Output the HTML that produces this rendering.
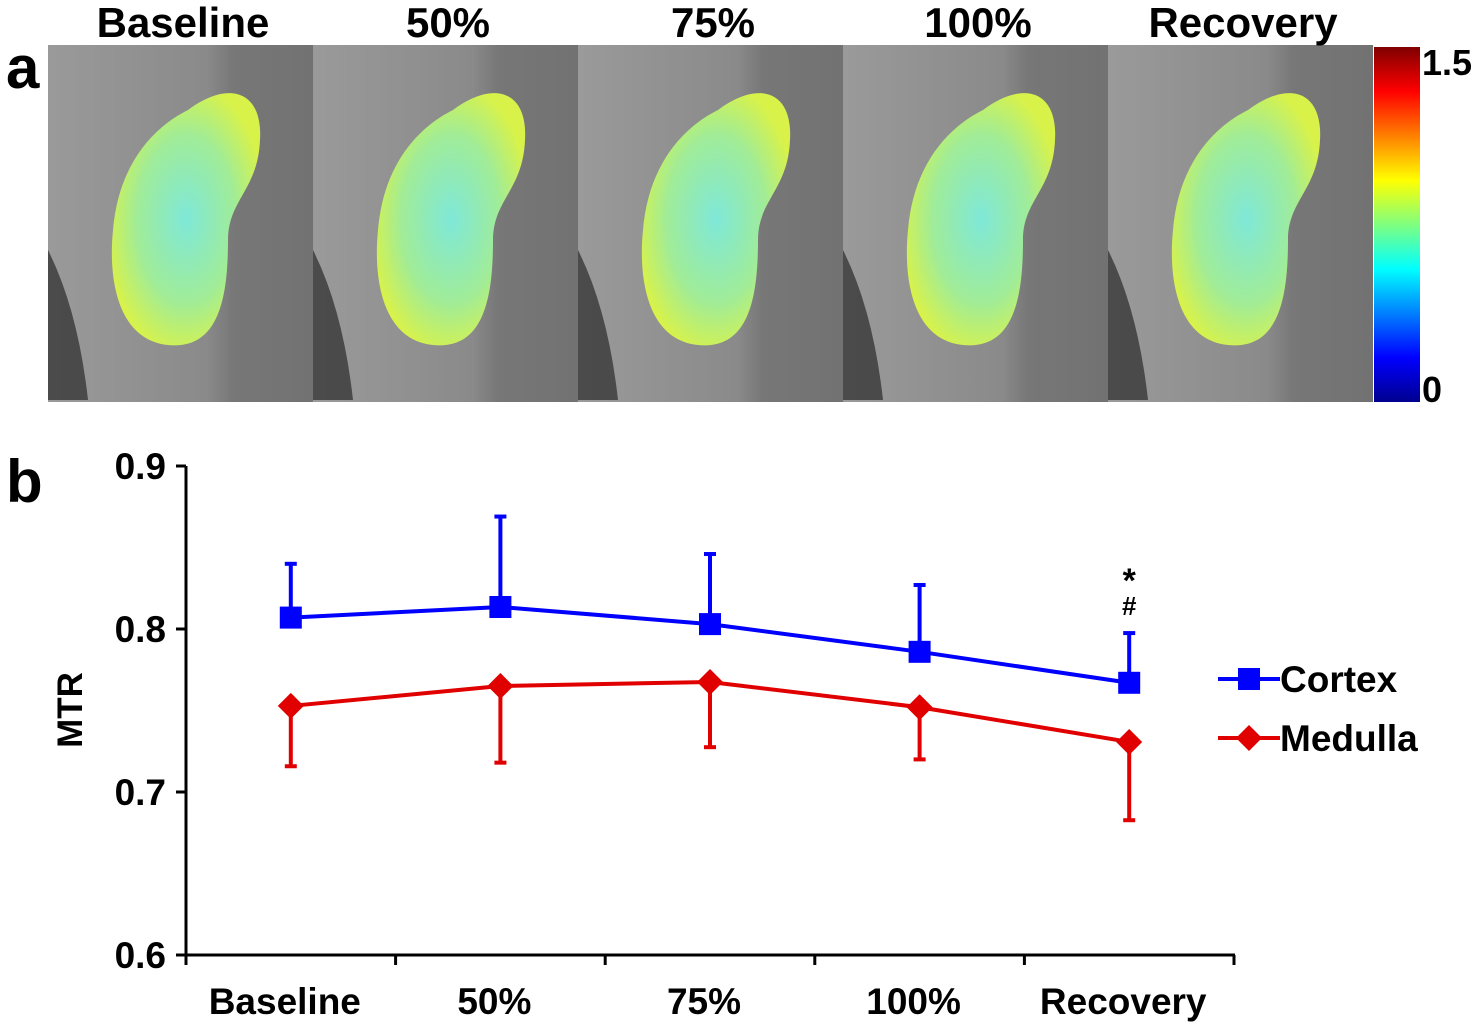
<!DOCTYPE html>
<html><head><meta charset="utf-8"><style>
body{margin:0;background:#fff;width:1480px;height:1024px;overflow:hidden;font-family:"Liberation Sans",sans-serif}
</style></head><body>
<svg width="1480" height="1024" viewBox="0 0 1480 1024">
<defs>
<linearGradient id="jet" x1="0" y1="1" x2="0" y2="0">
<stop offset="0" stop-color="#00008f"/><stop offset="0.125" stop-color="#0000ff"/><stop offset="0.375" stop-color="#00ffff"/><stop offset="0.625" stop-color="#ffff00"/><stop offset="0.875" stop-color="#ff0000"/><stop offset="1" stop-color="#800000"/>
</linearGradient>
<radialGradient id="kid" cx="0.5" cy="0.5" r="0.55">
<stop offset="0" stop-color="#7fe8d8"/><stop offset="0.6" stop-color="#a0ec98"/><stop offset="1" stop-color="#d8f24a"/>
</radialGradient>
<linearGradient id="bg" x1="0" y1="0" x2="1" y2="0">
<stop offset="0" stop-color="#9a9a9a"/><stop offset="0.6" stop-color="#8a8a8a"/><stop offset="0.7" stop-color="#777"/><stop offset="1" stop-color="#727272"/>
</linearGradient>
</defs>
<text x="6" y="88" font-size="60" font-weight="bold">a</text>
<text x="6" y="502" font-size="60" font-weight="bold">b</text>
<g id="mri"></g>
<rect x="1374" y="47" width="46" height="355" fill="url(#jet)"/>
<text x="1422" y="75" font-size="36" font-weight="bold">1.5</text>
<text x="1422" y="402" font-size="36" font-weight="bold">0</text>
<g id="chart"></g>
</svg>
<script>
const ns='http://www.w3.org/2000/svg';
function mk(p,t,a){const e=document.createElementNS(ns,t);for(const k in a)e.setAttribute(k,a[k]);p.appendChild(e);return e;}
const panelTitles=['Baseline','50%','75%','100%','Recovery'];
const mri=document.getElementById('mri');
panelTitles.forEach((t,i)=>{
  const x0=48+i*265;
  const r=mk(mri,'rect',{x:x0,y:45,width:265,height:357,fill:'url(#bg)'});
  
  
  mk(mri,'path',{d:`M${x0} 250 q30 60 40 150 h-40z`,fill:'#2a2a2a',opacity:0.7});
  const k=mk(mri,'path',{d:`M${x0+140} 110 C${x0+180} 80 ${x0+215} 90 ${x0+212} 140 C${x0+210} 190 ${x0+180} 200 ${x0+180} 240 C${x0+180} 300 ${x0+170} 350 ${x0+120} 345 C${x0+70} 340 ${x0+60} 280 ${x0+65} 230 C${x0+70} 170 ${x0+100} 130 ${x0+140} 110Z`,fill:'url(#kid)'});
  
  
  const tx=mk(mri,'text',{x:x0+135,y:37,'font-size':42,'font-weight':'bold','text-anchor':'middle'});
  tx.textContent=t;
  
  
});
const categories=['Baseline','50%','75%','100%','Recovery'];
const cortex=[0.807,0.8135,0.803,0.786,0.767];
const cortexErr=[0.033,0.0555,0.043,0.041,0.0305];
const medulla=[0.7528,0.765,0.7675,0.752,0.7307];
const medullaErr=[0.037,0.047,0.040,0.032,0.048];
const yTicks=[0.6,0.7,0.8,0.9];
const c=document.getElementById('chart');
const X0=186,X1=1234,Y0=955,Y1=466,ymin=0.6,ymax=0.9;
const bw=(X1-X0)/categories.length;
const xs=i=>X0+bw*(i+0.5);
const ys=v=>Y0-(v-ymin)/(ymax-ymin)*(Y0-Y1);
let e=mk(c,'line',{x1:X0,y1:Y1,x2:X0,y2:Y0+1,stroke:'#000','stroke-width':3});

e=mk(c,'line',{x1:X0-1,y1:Y0,x2:X1+1,y2:Y0,stroke:'#000','stroke-width':3});

yTicks.forEach(v=>{
  mk(c,'line',{x1:X0-10,y1:ys(v),x2:X0,y2:ys(v),stroke:'#000','stroke-width':3});
  const t=mk(c,'text',{x:X0-20,y:ys(v)+13,'font-size':37,'font-weight':'bold','text-anchor':'end'});
  t.textContent=v.toFixed(1);
  
});
for(let i=0;i<=categories.length;i++)mk(c,'line',{x1:X0+bw*i,y1:Y0,x2:X0+bw*i,y2:Y0+10,stroke:'#000','stroke-width':3});
categories.forEach((t,i)=>{
  const tx=mk(c,'text',{x:xs(i)-6,y:1014,'font-size':37,'font-weight':'bold','text-anchor':'middle'});
  tx.textContent=t;
  
});
e=mk(c,'text',{x:0,y:0,'font-size':35,'font-weight':'bold','text-anchor':'middle',transform:'translate(82,710) rotate(-90)'});
e.textContent='MTR';
function series(vals,errs,col,up,marker,name){
  const g=mk(c,'g',{});
  
  vals.forEach((v,i)=>{
    const ye=up?ys(v+errs[i]):ys(v-errs[i]);
    mk(g,'line',{x1:xs(i),y1:ys(v),x2:xs(i),y2:ye,stroke:col,'stroke-width':4});
    mk(g,'line',{x1:xs(i)-6,y1:ye,x2:xs(i)+6,y2:ye,stroke:col,'stroke-width':4});
  });
  mk(g,'polyline',{points:vals.map((v,i)=>xs(i)+','+ys(v)).join(' '),fill:'none',stroke:col,'stroke-width':4});
  vals.forEach((v,i)=>{
    let m;
    if(marker==='sq')m=mk(g,'rect',{x:xs(i)-11,y:ys(v)-11,width:22,height:22,fill:col});
    else m=mk(g,'path',{d:`M${xs(i)} ${ys(v)-13}L${xs(i)+13} ${ys(v)}L${xs(i)} ${ys(v)+13}L${xs(i)-13} ${ys(v)}Z`,fill:col});
    
  });
}
series(medulla,medullaErr,'#e00000',false,'dia','medulla');
series(cortex,cortexErr,'#0000ff',true,'sq','cortex');
e=mk(c,'text',{x:xs(4),y:592,'font-size':34,'font-weight':'bold','text-anchor':'middle'});e.textContent='*';

e=mk(c,'text',{x:xs(4),y:615,'font-size':26,'font-weight':'bold','text-anchor':'middle'});e.textContent='#';

const lg=mk(c,'g',{});
mk(lg,'line',{x1:1218,y1:679,x2:1280,y2:679,stroke:'#0000ff','stroke-width':4});
mk(lg,'rect',{x:1238,y:668,width:22,height:22,fill:'#0000ff'});
e=mk(lg,'text',{x:1280,y:692,'font-size':37,'font-weight':'bold'});e.textContent='Cortex';

mk(lg,'line',{x1:1218,y1:738,x2:1280,y2:738,stroke:'#e00000','stroke-width':4});
mk(lg,'path',{d:'M1249 725L1262 738L1249 751L1236 738Z',fill:'#e00000'});
e=mk(lg,'text',{x:1280,y:751,'font-size':37,'font-weight':'bold'});e.textContent='Medulla';

</script>
</body></html>
